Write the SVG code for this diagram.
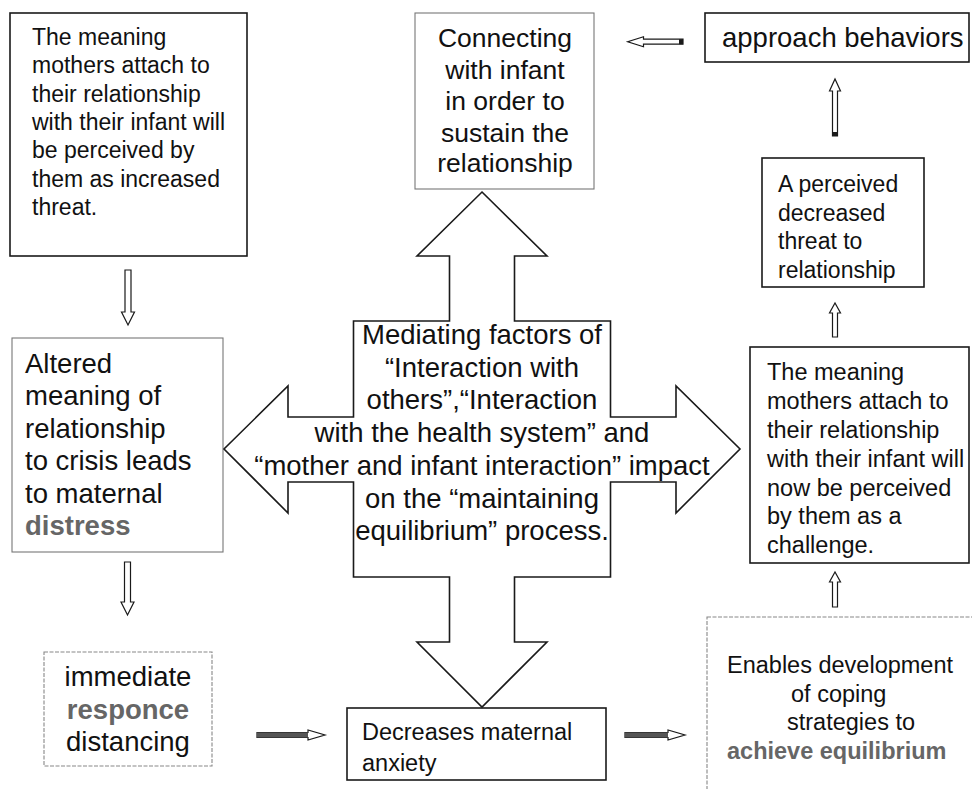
<svg xmlns="http://www.w3.org/2000/svg" width="972" height="789" viewBox="0 0 972 789">
<style>
text{font-family:"Liberation Sans",Arial,Helvetica,sans-serif;fill:#111}
.box{fill:#fff;stroke:#1a1a1a;stroke-width:1.6}
.lbox{fill:#fff;stroke:#777;stroke-width:1.1}
.dbox{fill:#fff;stroke:#888;stroke-width:1.1;stroke-dasharray:4 1.5}
.t23{font-size:23px}
.t235{font-size:23.5px}
.t265{font-size:26.5px}
.t275{font-size:27.5px}
.mid{text-anchor:middle}
.deg{font-weight:bold;fill:#666}
.arr{fill:#fff;stroke:#1a1a1a;stroke-width:1.2;stroke-linejoin:miter}
.shaft{fill:#555}
</style>
<rect width="972" height="789" fill="#fff"/>

<g id="box-threat">
<rect class="box" x="10" y="13" width="237" height="243"/>
<text class="t23" x="32"><tspan x="32" y="45">The meaning</tspan><tspan x="32" y="73.3">mothers attach to</tspan><tspan x="32" y="101.7">their relationship</tspan><tspan x="32" y="130">with their infant will</tspan><tspan x="32" y="158.3">be perceived by</tspan><tspan x="32" y="186.7">them as increased</tspan><tspan x="32" y="215">threat.</tspan></text>
</g>

<g id="box-altered">
<rect class="lbox" x="12" y="338" width="211" height="214"/>
<text class="t275"><tspan x="25" y="372.5">Altered</tspan><tspan x="25" y="405">meaning of</tspan><tspan x="25" y="437.5">relationship</tspan><tspan x="25" y="470">to crisis leads</tspan><tspan x="25" y="502.5">to maternal</tspan><tspan x="25" y="535" class="deg">distress</tspan></text>
</g>

<g id="box-immediate">
<rect class="dbox" x="44" y="652" width="168" height="114"/>
<text class="t275 mid"><tspan x="128" y="686">immediate</tspan><tspan x="128" y="718.5" class="deg">responce</tspan><tspan x="128" y="751">distancing</tspan></text>
</g>

<g id="box-connecting">
<rect class="lbox" x="415" y="13" width="179" height="176"/>
<text class="t265 mid"><tspan x="505" y="47">Connecting</tspan><tspan x="505" y="78.5">with infant</tspan><tspan x="505" y="110">in order to</tspan><tspan x="505" y="141.5">sustain the</tspan><tspan x="505" y="172">relationship</tspan></text>
</g>

<g id="box-approach">
<rect class="box" x="705" y="13" width="264" height="49"/>
<text class="t275" x="722" y="47">approach behaviors</text>
</g>

<g id="box-decreased-threat">
<rect class="box" x="762" y="158" width="162" height="129"/>
<text class="t23"><tspan x="778" y="192">A perceived</tspan><tspan x="778" y="220.5">decreased</tspan><tspan x="778" y="249">threat to</tspan><tspan x="778" y="277.5">relationship</tspan></text>
</g>

<g id="box-challenge">
<rect class="box" x="750" y="347" width="219" height="216"/>
<text class="t235"><tspan x="767" y="380">The meaning</tspan><tspan x="767" y="409">mothers attach to</tspan><tspan x="767" y="438">their relationship</tspan><tspan x="767" y="467">with their infant will</tspan><tspan x="767" y="495.5">now be perceived</tspan><tspan x="767" y="524">by them as a</tspan><tspan x="767" y="553">challenge.</tspan></text>
</g>

<g id="box-enables">
<rect class="dbox" x="707" y="617" width="270" height="185"/>
<text class="t235"><tspan x="727" y="673">Enables development</tspan><tspan x="791" y="701.5">of coping</tspan><tspan x="787" y="730">strategies to</tspan><tspan x="727" y="758.5" class="deg">achieve equilibrium</tspan></text>
</g>

<g id="box-anxiety">
<rect class="box" x="347" y="708" width="259" height="72"/>
<text class="t235"><tspan x="362" y="740">Decreases maternal</tspan><tspan x="362" y="771">anxiety</tspan></text>
</g>

<g id="cross-mediating">
<polygon fill="#fff" stroke="#1a1a1a" stroke-width="1.6" stroke-linejoin="miter" points="482,192 547,256 514.5,256 514.5,321 610.5,321 610.5,417 676,417 676,386 740,449 676,513 676,482 610.5,482 610.5,577 514.5,577 514.5,642 547,642 482,707 417,642 449.5,642 449.5,577 353.5,577 353.5,482 288,482 288,513 224,449 288,386 288,417 353.5,417 353.5,321 449.5,321 449.5,256 417,256"/>
<text class="t275 mid"><tspan x="482" y="344">Mediating factors of</tspan><tspan x="482" y="376.7">“Interaction with</tspan><tspan x="482" y="409.4">others”,“Interaction</tspan><tspan x="482" y="442">with the health system” and</tspan><tspan x="482" y="474.8">“mother and infant interaction” impact</tspan><tspan x="482" y="507.5">on the “maintaining</tspan><tspan x="482" y="540.2">equilibrium” process.</tspan></text>
</g>

<g id="connectors">
<polygon class="arr" points="125,270 131,270 131,312 134.5,312 128,325 121.5,312 125,312"/>
<polygon class="arr" points="124.5,562 130.5,562 130.5,602 134,602 127.5,615 121,602 124.5,602"/>
<polygon class="arr" points="832.5,136 837.5,136 837.5,91 840.5,91 835,79 829.5,91 832.5,91"/>
<rect x="832.5" y="132" width="5" height="4" fill="#1a1a1a"/>
<polygon class="arr" points="832.5,337 837.5,337 837.5,313 840.5,313 835,303 829.5,313 832.5,313"/>
<polygon class="arr" points="832.5,607 837.5,607 837.5,582 840.5,582 835,572 829.5,582 832.5,582"/>
<polygon class="arr" points="683,39.2 683,44.2 643.5,44.2 643.5,46.7 627.7,41.7 643.5,36.7 643.5,39.2"/>
<rect x="679" y="39.2" width="4" height="5" fill="#1a1a1a"/>
<polygon class="arr" points="257,732.5 308,732.5 308,730 325,735 308,740 308,737.5 257,737.5"/>
<rect class="shaft" x="257" y="732.5" width="51" height="5"/>
<polygon class="arr" points="625,732.5 668,732.5 668,730 685,735 668,740 668,737.5 625,737.5"/>
<rect class="shaft" x="625" y="732.5" width="43" height="5"/>
</g>
</svg>
